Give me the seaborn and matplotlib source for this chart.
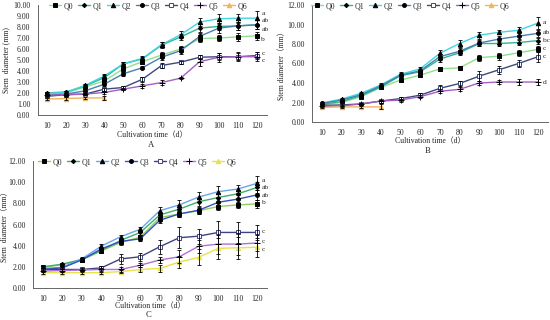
import numpy as np
import pandas as pd
import matplotlib
matplotlib.use("Agg")
import matplotlib.pyplot as plt
import seaborn as sns

sns.set_theme(style="white")
plt.rcParams['font.family'] = ['Liberation Serif', 'Noto Sans CJK SC', 'DejaVu Sans']

days = [10, 20, 30, 40, 50, 60, 70, 80, 90, 100, 110, 120]
series_names = ["Q0", "Q1", "Q2", "Q3", "Q4", "Q5", "Q6"]

# ---------------- Panel A ----------------
A_Q0 = [1.90, 2.00, 2.55, 3.10, 4.20, 4.85, 5.45, 6.00, 6.95, 7.00, 7.10, 7.20]
A_Q1 = [2.00, 2.10, 2.65, 3.40, 4.65, 5.10, 6.35, 7.10, 7.90, 8.05, 8.10, 8.20]
A_Q2 = [1.95, 2.05, 2.70, 3.55, 4.65, 5.15, 6.40, 7.30, 8.45, 8.75, 8.80, 8.80]
A_Q3 = [1.80, 1.90, 2.20, 2.80, 3.75, 4.30, 5.25, 5.85, 7.15, 7.90, 8.10, 8.20]
A_Q4 = [1.70, 1.85, 1.90, 2.35, 2.50, 3.25, 4.50, 4.80, 5.25, 5.30, 5.30, 5.40]
A_Q5 = [1.80, 1.85, 1.90, 2.05, 2.35, 2.65, 2.95, 3.35, 4.85, 5.25, 5.30, 5.30]
A_Q6 = [1.45, 1.50, 1.55, 1.55]
A_E0 = [0.10, 0.10, 0.15, 0.20, 0.25, 0.20, 0.25, 0.30, 0.30, 0.30, 0.35, 0.35]
A_E1 = [0.10, 0.10, 0.15, 0.20, 0.20, 0.20, 0.25, 0.30, 0.35, 0.35, 0.35, 0.40]
A_E2 = [0.10, 0.10, 0.15, 0.20, 0.20, 0.20, 0.25, 0.30, 0.35, 0.40, 0.40, 0.65]
A_E3 = [0.10, 0.10, 0.15, 0.20, 0.20, 0.15, 0.25, 0.30, 0.35, 0.40, 0.40, 0.40]
A_E4 = [0.10, 0.10, 0.10, 0.15, 0.15, 0.25, 0.20, 0.15, 0.20, 0.30, 0.30, 0.30]
A_E5 = [0.10, 0.10, 0.10, 0.10, 0.10, 0.15, 0.20, 0.10, 0.35, 0.40, 0.40, 0.40]
A_E6 = [0.10, 0.10, 0.10, 0.20]
A_letters = ["a", "ab", "ab", "b", "c", "c"]
A_letter_y = [9.25, 8.55, 7.80, 6.90, 5.60, 4.95]

# ---------------- Panel B ----------------
B_Q0 = [1.75, 2.00, 2.60, 3.55, 4.30, 4.80, 5.45, 5.55, 6.60, 6.75, 7.10, 7.45]
B_Q1 = [1.80, 2.10, 2.70, 3.60, 4.75, 5.15, 6.45, 7.10, 8.05, 8.05, 8.15, 8.35]
B_Q2 = [1.95, 2.35, 2.95, 3.80, 4.90, 5.45, 7.05, 8.05, 8.90, 9.20, 9.40, 10.15]
B_Q3 = [1.90, 2.25, 2.80, 3.70, 4.80, 5.25, 6.70, 7.25, 8.10, 8.50, 8.80, 9.10]
B_Q4 = [1.70, 1.75, 1.85, 2.15, 2.40, 2.75, 3.45, 3.95, 4.70, 5.35, 6.00, 6.70]
B_Q5 = [1.60, 1.65, 1.85, 2.15, 2.25, 2.60, 3.15, 3.35, 4.00, 4.10, 4.10, 4.10]
B_Q6 = [1.50, 1.55, 1.55, 1.55]
B_E0 = [0.10, 0.10, 0.15, 0.15, 0.15, 0.15, 0.20, 0.15, 0.30, 0.35, 0.30, 0.30]
B_E1 = [0.10, 0.10, 0.15, 0.15, 0.20, 0.20, 0.25, 0.25, 0.30, 0.30, 0.30, 0.30]
B_E2 = [0.10, 0.15, 0.15, 0.15, 0.20, 0.20, 0.35, 0.35, 0.35, 0.20, 0.30, 0.65]
B_E3 = [0.10, 0.10, 0.15, 0.15, 0.20, 0.20, 0.30, 0.30, 0.30, 0.30, 0.30, 0.35]
B_E4 = [0.10, 0.10, 0.10, 0.15, 0.15, 0.20, 0.30, 0.30, 0.50, 0.40, 0.35, 0.50]
B_E5 = [0.10, 0.10, 0.10, 0.15, 0.15, 0.15, 0.20, 0.20, 0.25, 0.20, 0.30, 0.30]
B_E6 = [0.10, 0.10, 0.10, 0.25]
B_letters = ["a", "ab", "bc", "c", "c", "d"]
B_letter_y = [10.20, 9.15, 8.40, 7.50, 6.75, 4.10]

# ---------------- Panel C ----------------
C_Q0 = [1.95, 2.20, 2.65, 3.50, 4.30, 4.80, 6.65, 7.00, 7.30, 7.70, 7.85, 7.95]
C_Q1 = [2.00, 2.25, 2.70, 3.55, 4.50, 5.25, 6.90, 7.45, 8.15, 8.55, 8.90, 9.50]
C_Q2 = [1.85, 1.95, 2.75, 3.95, 4.85, 5.55, 7.30, 7.85, 8.60, 9.10, 9.35, 9.90]
C_Q3 = [1.75, 1.90, 2.65, 3.70, 4.40, 4.65, 6.40, 7.00, 7.35, 8.10, 8.40, 8.80]
C_Q4 = [1.75, 1.75, 1.75, 1.90, 2.75, 2.95, 3.90, 4.75, 4.90, 5.25, 5.25, 5.25]
C_Q5 = [1.60, 1.65, 1.70, 1.75, 1.75, 2.15, 2.65, 2.95, 3.95, 4.15, 4.15, 4.25]
C_Q6 = [1.45, 1.45, 1.45, 1.45, 1.55, 1.75, 1.85, 2.45, 2.90, 3.75, 3.80, 3.85]
C_E0 = [0.10, 0.10, 0.15, 0.15, 0.20, 0.20, 0.30, 0.30, 0.30, 0.30, 0.25, 0.40]
C_E1 = [0.10, 0.10, 0.15, 0.15, 0.20, 0.25, 0.30, 0.40, 0.40, 0.40, 0.40, 0.50]
C_E2 = [0.10, 0.15, 0.15, 0.20, 0.20, 0.25, 0.35, 0.45, 0.50, 0.50, 0.40, 0.65]
C_E3 = [0.10, 0.10, 0.15, 0.20, 0.20, 0.25, 0.30, 0.30, 0.35, 0.40, 0.40, 0.50]
C_E4 = [0.10, 0.10, 0.10, 0.15, 0.45, 0.40, 0.65, 1.00, 0.70, 1.05, 1.00, 0.75]
C_E5 = [0.10, 0.10, 0.10, 0.10, 0.20, 0.20, 0.30, 0.60, 0.60, 0.90, 1.00, 0.80]
C_E6 = [0.10, 0.10, 0.10, 0.10, 0.15, 0.20, 0.30, 0.60, 0.75, 1.00, 1.05, 0.90]
C_letters = ["a", "ab", "ab", "b", "c", "c", "c"]
C_letter_y = [10.15, 9.45, 8.75, 8.05, 5.35, 4.40, 3.65]

pal_AB = ['#8ee08e', '#2fb592', '#3fd8e2', '#4a80b2', '#3d4a7a', '#a45fc4', '#f0b45a']
pal_C = ['#8fcf5a', '#3caf6e', '#6aa6ea', '#3452c2', '#40427f', '#b46fd6', '#e6e24a']
markers = ['s', 'D', '^', 'o', 's', '+', '^']
msizes = [3.0, 2.2, 3.2, 2.8, 3.0, 3.8, 3.2]

FS = 5.6
W, H = 550, 320
fig = plt.figure(figsize=(W / 100, H / 100), dpi=100)


def add_ax(left, right, top, bottom):
    return fig.add_axes([left / W, 1 - bottom / H, (right - left) / W, (bottom - top) / H])


def draw_panel(ax, box, vals, errs, pal, ymax, ylabel, panel_letter, letter_xy,
               letters, letter_y, leg_xy, ylab_dx, xlab_dy):
    left, right, top, bottom = box
    for i, (v, e) in enumerate(zip(vals, errs)):
        x = days[:len(v)]
        df = pd.DataFrame({"day": x, "val": v})
        if i in (0, 1, 2, 3):
            mfc, mec = 'black', 'black'
        elif i == 4:
            mfc, mec = 'white', pal[i]
        else:
            mfc, mec = pal[i], pal[i] if i == 6 else 'black'
        sns.lineplot(data=df, x="day", y="val", ax=ax, color=pal[i], lw=1.0,
                     marker=markers[i], markersize=msizes[i], markerfacecolor=mfc,
                     markeredgecolor=mec, markeredgewidth=0.7, zorder=3,
                     label=series_names[i])
        ax.errorbar(x, v, yerr=e, fmt='none', ecolor='black', elinewidth=0.6,
                    capsize=1.4, capthick=0.6, zorder=4)
    ax.set_xlim(5, 125)
    ax.set_ylim(0, ymax)
    ax.set_xticks(days)
    ax.set_xticklabels([str(d) for d in days], fontsize=FS)
    ax.set_xticks(np.arange(5, 126, 10), minor=True)
    ax.tick_params(axis='x', which='major', length=0, pad=5)
    ax.tick_params(axis='x', which='minor', length=2.2, width=0.6, direction='out',
                   color='#666666')
    yt = np.arange(0, ymax + 0.01, 2.0 if ymax > 10 else 1.0)
    ax.set_yticks(yt)
    ax.set_yticklabels([f"{t:.2f}" for t in yt], fontsize=FS)
    ax.tick_params(axis='y', length=2.2, width=0.6, direction='out', color='#666666', pad=3)
    for s in ['top', 'right']:
        ax.spines[s].set_visible(False)
    for s in ['left', 'bottom']:
        ax.spines[s].set_color('#666666')
        ax.spines[s].set_linewidth(0.7)
    ax.set_xlabel("Cultivation time（d）", fontsize=FS)
    ax.set_ylabel(ylabel, fontsize=FS)
    ax.yaxis.set_label_coords(ylab_dx / (right - left), 0.5)
    ax.xaxis.set_label_coords(0.5, -xlab_dy / (bottom - top))
    fig.text(letter_xy[0] / W, 1 - letter_xy[1] / H, panel_letter, ha='center',
             va='center', fontsize=FS + 0.6)
    for lt, ly in zip(letters, letter_y):
        ax.text(122.3, ly, lt, fontsize=FS - 0.2, ha='left', va='center')
    h, l = ax.get_legend_handles_labels()
    ax.legend(h, l, loc='center', ncol=7, frameon=False, fontsize=FS,
              bbox_to_anchor=(leg_xy[0] / W, 1 - leg_xy[1] / H),
              bbox_transform=fig.transFigure,
              handlelength=1.6, handletextpad=0.3, columnspacing=0.6, borderpad=0)


boxA = (37.5, 266.5, 5, 115)
axA = add_ax(*boxA)
draw_panel(axA, boxA, [A_Q0, A_Q1, A_Q2, A_Q3, A_Q4, A_Q5, A_Q6],
           [A_E0, A_E1, A_E2, A_E3, A_E4, A_E5, A_E6], pal_AB, 10,
           "Stem  diameter (mm)", "A", (151, 145), A_letters, A_letter_y, (148, 6),
           -27, 16)

boxB = (312, 548, 5, 122)
axB = add_ax(*boxB)
draw_panel(axB, boxB, [B_Q0, B_Q1, B_Q2, B_Q3, B_Q4, B_Q5, B_Q6],
           [B_E0, B_E1, B_E2, B_E3, B_E4, B_E5, B_E6], pal_AB, 12,
           "Stem diameter（mm）", "B", (428, 151), B_letters, B_letter_y, (410, 6),
           -26, 15)

boxC = (33, 267, 161, 288)
axC = add_ax(*boxC)
draw_panel(axC, boxC, [C_Q0, C_Q1, C_Q2, C_Q3, C_Q4, C_Q5, C_Q6],
           [C_E0, C_E1, C_E2, C_E3, C_E4, C_E5, C_E6], pal_C, 12,
           "Stem  diameter（mm）", "C", (148, 315), C_letters, C_letter_y, (137, 162),
           -24, 14)

fig.savefig("out.png", dpi=100)
